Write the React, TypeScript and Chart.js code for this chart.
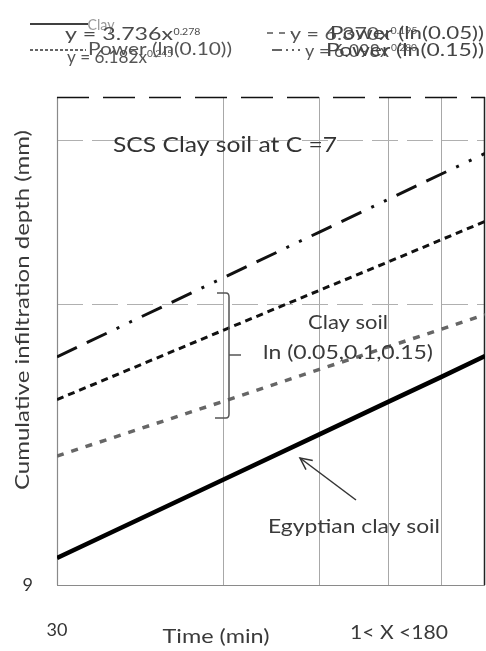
import React, { useEffect, useRef } from "react";
import { Chart, registerables } from "chart.js";

Chart.register(...registerables);

// ---- data ----
const timeValues = [30, 60, 90, 120, 150, 180];
const clayDepth = [9.62, 11.66, 13.05, 14.14, 15.04, 15.83];
const powerLn005 = [12.37, 14.15, 15.32, 16.2, 16.92, 17.54];
const powerLn010 = [14.22, 16.86, 18.62, 19.97, 21.1, 22.07];
const powerLn015 = [15.8, 19.19, 21.5, 23.3, 24.81, 26.1];

const seriesNames = ["Clay", "Power (ln(0.05))", "Power (ln(0.10))", "Power (ln(0.15))"];
const equations = ["y = 3.736x", "y = 6.370x", "y = 6.182x", "y = 6.098x"];
const exponents = ["0.278", "0.195", "0.245", "0.280"];

const xTickLabels = [30];
const yTickLabels = [9];
const xGridValues = [60, 90, 120, 150];
const yGridValues = [18, 27];
const xMin = 30;
const xMax = 180;
const yMin = 9;
const yMax = 30;

const FONT = 'Lato, "Open Sans", sans-serif';

function toPoints(vals: number[]) {
  return timeValues.map((t, i) => ({ x: t, y: vals[i] }));
}

function drawText(
  ctx: CanvasRenderingContext2D,
  s: string,
  cx: number,
  cy: number,
  size: number,
  width: number | null,
  color: string,
  rot = 0
) {
  ctx.save();
  ctx.translate(cx, cy);
  ctx.rotate(rot);
  ctx.font = `${size}px ${FONT}`;
  const m = ctx.measureText(s).width;
  const sx = width ? width / m : 1;
  ctx.scale(sx, 1);
  ctx.textAlign = "center";
  ctx.textBaseline = "middle";
  ctx.fillStyle = color;
  ctx.fillText(s, 0, 0);
  ctx.restore();
}

function drawSample(
  ctx: CanvasRenderingContext2D,
  x0: number,
  x1: number,
  y: number,
  color: string,
  width: number,
  dash: number[]
) {
  ctx.save();
  ctx.strokeStyle = color;
  ctx.lineWidth = width;
  ctx.setLineDash(dash);
  ctx.beginPath();
  ctx.moveTo(x0, y);
  ctx.lineTo(x1, y);
  ctx.stroke();
  ctx.restore();
}

const gridPlugin = {
  id: "customGrid",
  beforeDatasetsDraw(chart: any) {
    const { ctx, chartArea } = chart;
    const { left, right, top, bottom } = chartArea;
    const xs = chart.scales.x;
    const ys = chart.scales.y;
    ctx.save();
    ctx.lineWidth = 1;
    ctx.strokeStyle = "#a8a8a8";
    xGridValues.forEach((v) => {
      const px = Math.round(xs.getPixelForValue(v)) + 0.5;
      ctx.beginPath();
      ctx.moveTo(px, top);
      ctx.lineTo(px, bottom);
      ctx.stroke();
    });
    ctx.setLineDash([26, 9]);
    ctx.strokeStyle = "#b0b0b0";
    yGridValues.forEach((v) => {
      const py = Math.round(ys.getPixelForValue(v)) + 0.5;
      ctx.beginPath();
      ctx.moveTo(left, py);
      ctx.lineTo(right, py);
      ctx.stroke();
    });
    ctx.setLineDash([]);
    // left border
    ctx.strokeStyle = "#8a8a8a";
    ctx.lineWidth = 1.2;
    ctx.beginPath();
    ctx.moveTo(left + 0.5, top);
    ctx.lineTo(left + 0.5, bottom);
    ctx.stroke();
    // bottom border
    ctx.beginPath();
    ctx.moveTo(left, bottom + 0.5);
    ctx.lineTo(right, bottom + 0.5);
    ctx.stroke();
    // right border
    ctx.strokeStyle = "#222";
    ctx.lineWidth = 1.5;
    ctx.beginPath();
    ctx.moveTo(right - 0.5, top);
    ctx.lineTo(right - 0.5, bottom);
    ctx.stroke();
    // top border (dashed)
    ctx.setLineDash([32, 14]);
    ctx.strokeStyle = "#111";
    ctx.beginPath();
    ctx.moveTo(left, top + 0.5);
    ctx.lineTo(right, top + 0.5);
    ctx.stroke();
    ctx.restore();
  },
  afterDraw(chart: any) {
    const { ctx } = chart;
    ctx.save();
    // axis titles
    drawText(ctx, "Cumulative infiltration depth (mm)", 23, 310, 19, 360, "#3a3a3a", -Math.PI / 2);
    drawText(ctx, "Time (min)", 216, 637, 19, 107, "#3a3a3a");
    drawText(ctx, "1< X <180", 399, 633, 19, 98, "#3a3a3a");

    // annotations
    drawText(ctx, "SCS Clay soil at C =7", 225, 145, 22, 224, "#333");
    drawText(ctx, "Clay soil", 348, 323, 19, 80, "#3a3a3a");
    drawText(ctx, "ln (0.05,0.1,0.15)", 348, 353, 19, 170, "#3a3a3a");
    drawText(ctx, "Egyptian clay soil", 354, 527, 20, 172, "#3a3a3a");

    // bracket
    ctx.strokeStyle = "#555";
    ctx.lineWidth = 1.5;
    ctx.beginPath();
    ctx.moveTo(217, 293);
    ctx.lineTo(226, 293);
    ctx.quadraticCurveTo(229, 293, 229, 297);
    ctx.lineTo(229, 414);
    ctx.quadraticCurveTo(229, 418, 226, 418);
    ctx.lineTo(215, 418);
    ctx.moveTo(229, 355);
    ctx.lineTo(241, 355);
    ctx.stroke();

    // arrow
    ctx.strokeStyle = "#333";
    ctx.lineWidth = 1.5;
    ctx.beginPath();
    ctx.moveTo(356, 500);
    ctx.lineTo(300, 458);
    ctx.stroke();
    const ang = Math.atan2(458 - 500, 300 - 356);
    ctx.beginPath();
    ctx.moveTo(300 - 13 * Math.cos(ang - 0.45), 458 - 13 * Math.sin(ang - 0.45));
    ctx.lineTo(300, 458);
    ctx.lineTo(300 - 13 * Math.cos(ang + 0.45), 458 - 13 * Math.sin(ang + 0.45));
    ctx.stroke();

    // legend (overlapping labels, as in the reference)
    drawSample(ctx, 30, 88, 24, "#000", 1.5, []);
    drawText(ctx, seriesNames[0], 101, 25, 15, 27, "#9a9a9a");
    drawText(ctx, equations[0], 65 + 54, 34, 18, 108, "#4a4a4a");
    drawText(ctx, exponents[0], 187, 32, 10, 27, "#4a4a4a");

    drawSample(ctx, 267, 292, 33, "#555", 1.5, [6, 6]);
    drawText(ctx, equations[1], 290 + 50, 34, 18, 100, "#555");
    drawText(ctx, exponents[1], 404, 31, 10, 27, "#555");
    drawText(ctx, seriesNames[1], 330 + 77, 33, 18, 154, "#444");

    drawSample(ctx, 30, 86, 50, "#333", 1.5, [3, 2]);
    drawText(ctx, equations[2], 67 + 40, 57, 18, 80, "#555");
    drawText(ctx, exponents[2], 160, 54, 10, 26, "#555");
    drawText(ctx, seriesNames[2], 88 + 72, 49, 18, 144, "#555");

    drawSample(ctx, 272, 300, 50, "#333", 1.5, [10, 4, 2, 4, 2, 4]);
    drawText(ctx, equations[3], 305 + 42, 51, 18, 84, "#555");
    drawText(ctx, exponents[3], 404, 48, 10, 26, "#555");
    drawText(ctx, seriesNames[3], 326 + 79, 50, 18, 158, "#444");
    ctx.restore();
  },
};

export default function App() {
  const ref = useRef<HTMLCanvasElement | null>(null);

  useEffect(() => {
    if (!ref.current) return;
    const chart = new Chart(ref.current, {
      type: "line",
      data: {
        datasets: [
          {
            label: seriesNames[0],
            data: toPoints(clayDepth),
            borderColor: "#000",
            borderWidth: 4.5,
            pointRadius: 0,
            tension: 0,
          },
          {
            label: seriesNames[1],
            data: toPoints(powerLn005),
            borderColor: "#666",
            borderWidth: 3.5,
            borderDash: [7, 8],
            pointRadius: 0,
            tension: 0,
          },
          {
            label: seriesNames[2],
            data: toPoints(powerLn010),
            borderColor: "#111",
            borderWidth: 3,
            borderDash: [7, 5],
            pointRadius: 0,
            tension: 0,
          },
          {
            label: seriesNames[3],
            data: toPoints(powerLn015),
            borderColor: "#111",
            borderWidth: 3,
            borderDash: [22, 11, 22, 11, 3, 11, 3, 11],
            pointRadius: 0,
            tension: 0,
          },
        ],
      } as any,
      options: {
        animation: false,
        responsive: false,
        maintainAspectRatio: false,
        layout: { padding: { top: 97, right: 1, left: 0, bottom: 0 } },
        plugins: {
          legend: { display: false },
          tooltip: { enabled: false },
          title: { display: false },
        },
        scales: {
          x: {
            type: "logarithmic",
            min: xMin,
            max: xMax,
            afterBuildTicks: (s: any) => {
              s.ticks = xTickLabels.map((v) => ({ value: v }));
            },
            afterFit: (s: any) => {
              s.height = 66;
            },
            ticks: {
              callback: (v: any) => String(v),
              font: { family: FONT, size: 18 },
              color: "#333",
              padding: 34,
              maxRotation: 0,
              autoSkip: false,
            },
            grid: { display: false, drawTicks: false },
            border: { display: false },
          },
          y: {
            type: "logarithmic",
            min: yMin,
            max: yMax,
            afterBuildTicks: (s: any) => {
              s.ticks = yTickLabels.map((v) => ({ value: v }));
            },
            afterFit: (s: any) => {
              s.width = 57;
            },
            ticks: {
              callback: (v: any) => String(v),
              font: { family: FONT, size: 18 },
              color: "#333",
              padding: 24,
              autoSkip: false,
            },
            grid: { display: false, drawTicks: false },
            border: { display: false },
          },
        },
      } as any,
      plugins: [gridPlugin],
    });
    return () => chart.destroy();
  }, []);

  return (
    <div style={{ position: "absolute", left: 0, top: 0, width: 486, height: 651, background: "#fff" }}>
      <canvas ref={ref} width={486} height={651} style={{ display: "block" }} />
    </div>
  );
}
